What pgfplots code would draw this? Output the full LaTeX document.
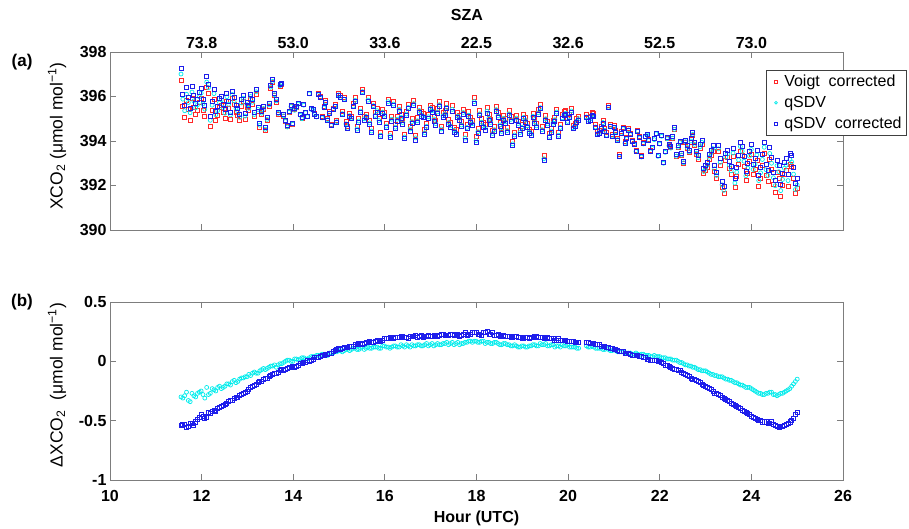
\documentclass[border=0pt]{standalone}
\usepackage{fontspec}
\setmainfont{Liberation Sans}
\usepackage{pgfplots}
\usepackage{pgfplotstable}
\pgfplotsset{compat=1.18}
\definecolor{cR}{RGB}{255,40,40}
\definecolor{cC}{RGB}{0,235,235}
\definecolor{cB}{RGB}{30,30,235}
\definecolor{axgray}{RGB}{125,125,125}

% t = hour (UTC), v = Voigt corrected, c = qSDV, b = qSDV corrected,
% dc = Voigt - qSDV, db = Voigt - qSDV corrected
\pgfplotstableread{
t v c b dc db
11.55 396.71 397.01 397.25 -0.30 -0.54
11.63 395.07 395.36 395.60 -0.29 -0.53
11.71 395.40 395.73 395.95 -0.33 -0.55
11.79 395.93 396.20 396.45 -0.27 -0.52
11.87 395.19 395.49 395.70 -0.30 -0.51
11.95 395.73 395.99 396.20 -0.26 -0.47
12.03 395.39 395.67 395.85 -0.28 -0.46
12.11 396.43 396.65 396.90 -0.22 -0.47
12.19 394.66 394.93 395.10 -0.27 -0.44
12.27 395.89 396.13 396.30 -0.24 -0.41
12.35 395.15 395.37 395.55 -0.22 -0.40
12.43 395.62 395.85 396.00 -0.23 -0.38
12.51 395.04 395.25 395.40 -0.21 -0.36
12.59 395.46 395.65 395.80 -0.19 -0.34
12.67 395.92 396.09 396.25 -0.17 -0.33
12.75 395.30 395.48 395.60 -0.18 -0.30
12.83 394.91 395.06 395.20 -0.15 -0.29
12.91 395.78 395.92 396.05 -0.14 -0.27
12.99 395.50 395.63 395.75 -0.13 -0.25
13.07 395.88 396.00 396.10 -0.12 -0.22
13.15 395.10 395.19 395.30 -0.09 -0.20
13.23 395.32 395.42 395.50 -0.10 -0.18
13.31 395.18 395.25 395.35 -0.07 -0.17
13.39 394.46 394.53 394.60 -0.07 -0.14
13.47 395.57 395.62 395.70 -0.05 -0.13
13.55 396.64 396.68 396.75 -0.04 -0.11
13.63 395.75 395.80 395.85 -0.05 -0.10
13.71 396.47 396.49 396.55 -0.02 -0.08
13.79 395.12 395.13 395.20 -0.01 -0.08
13.87 394.64 394.63 394.70 0.01 -0.06
13.95 395.55 395.55 395.60 0.00 -0.05
14.03 395.40 395.38 395.45 0.02 -0.05
14.11 395.67 395.66 395.70 0.01 -0.03
14.19 395.03 395.00 395.05 0.03 -0.02
14.27 395.29 395.27 395.30 0.02 -0.01
14.35 396.15 396.12 396.15 0.03 0.00
14.43 395.42 395.38 395.40 0.04 0.02
14.51 395.13 395.08 395.10 0.05 0.03
14.59 395.99 395.94 395.95 0.05 0.04
14.67 395.55 395.49 395.50 0.06 0.05
14.75 395.01 394.96 394.95 0.05 0.06
14.83 394.77 394.70 394.70 0.07 0.07
14.91 395.64 395.56 395.55 0.08 0.09
14.99 396.16 396.07 396.05 0.09 0.11
15.07 395.31 395.23 395.20 0.08 0.11
15.15 394.87 394.77 394.75 0.10 0.12
15.23 395.23 395.14 395.10 0.09 0.13
15.31 395.68 395.57 395.55 0.11 0.13
15.39 394.64 394.54 394.50 0.10 0.14
15.47 395.45 395.34 395.30 0.11 0.15
15.55 395.10 395.00 394.95 0.10 0.15
15.63 395.96 395.84 395.80 0.12 0.16
15.71 394.56 394.45 394.40 0.11 0.16
15.79 395.27 395.15 395.10 0.12 0.17
15.87 395.03 394.92 394.85 0.11 0.18
15.95 395.43 395.30 395.25 0.13 0.18
16.03 394.79 394.67 394.60 0.12 0.19
16.11 394.35 394.24 394.15 0.11 0.20
16.19 395.79 395.66 395.60 0.13 0.19
16.27 395.10 394.98 394.90 0.12 0.20
16.35 395.21 395.07 395.00 0.14 0.21
16.43 394.30 394.18 394.10 0.12 0.20
16.51 395.64 395.51 395.45 0.13 0.19
16.59 395.01 394.87 394.80 0.14 0.21
16.67 394.27 394.14 394.05 0.13 0.22
16.75 395.51 395.37 395.30 0.14 0.21
16.83 395.25 395.12 395.05 0.13 0.20
16.91 394.81 394.66 394.60 0.15 0.21
16.99 395.61 395.47 395.40 0.14 0.21
17.07 395.12 394.99 394.90 0.13 0.22
17.15 395.46 395.31 395.25 0.15 0.21
17.23 394.68 394.54 394.45 0.14 0.23
17.31 395.37 395.22 395.15 0.15 0.22
17.39 394.97 394.83 394.75 0.14 0.22
17.47 395.58 395.42 395.35 0.16 0.23
17.55 394.52 394.37 394.30 0.15 0.22
17.63 395.16 395.02 394.95 0.14 0.21
17.71 395.43 395.28 395.20 0.15 0.23
17.79 394.77 394.61 394.55 0.16 0.22
17.87 395.08 394.91 394.85 0.17 0.23
17.95 395.94 395.77 395.70 0.17 0.24
18.03 394.58 394.42 394.35 0.16 0.23
18.11 395.02 394.85 394.80 0.17 0.22
18.19 394.74 394.59 394.50 0.15 0.24
18.27 395.18 395.02 394.95 0.16 0.23
18.35 394.49 394.34 394.25 0.15 0.24
18.43 395.57 395.41 395.35 0.16 0.22
18.51 394.86 394.72 394.65 0.14 0.21
18.59 395.17 395.02 394.95 0.15 0.22
18.67 394.61 394.47 394.40 0.14 0.21
18.75 395.10 394.97 394.90 0.13 0.20
18.83 394.41 394.27 394.20 0.14 0.21
18.91 394.90 394.78 394.70 0.12 0.20
18.99 394.74 394.61 394.55 0.13 0.19
19.07 395.05 394.93 394.85 0.12 0.20
19.15 394.54 394.41 394.35 0.13 0.19
19.23 395.25 395.11 395.05 0.14 0.20
19.31 394.81 394.68 394.60 0.13 0.21
19.39 395.65 395.50 395.45 0.15 0.20
19.47 393.34 393.20 393.15 0.14 0.19
19.55 394.90 394.77 394.70 0.13 0.20
19.63 394.59 394.45 394.40 0.14 0.19
19.71 395.08 394.96 394.90 0.12 0.18
19.79 394.39 394.26 394.20 0.13 0.19
19.87 395.18 395.04 395.00 0.14 0.18
19.95 395.38 395.25 395.20 0.13 0.18
20.03 395.22 395.10 395.05 0.12 0.17
20.11 394.72 394.60 394.55 0.12 0.17
20.19 395.01 394.90 394.85 0.11 0.16
20.40 395.21 395.08 395.05 0.13 0.16
20.48 395.10 394.98 394.95 0.12 0.15
20.56 395.25 395.13 395.10 0.12 0.15
20.64 394.44 394.33 394.30 0.11 0.14
20.72 394.68 394.57 394.55 0.11 0.13
20.80 394.58 394.48 394.45 0.10 0.13
20.88 395.62 395.52 395.50 0.10 0.12
20.96 394.31 394.22 394.20 0.09 0.11
21.04 394.50 394.41 394.40 0.09 0.10
21.12 393.38 393.30 393.30 0.08 0.08
21.20 394.63 394.55 394.55 0.08 0.08
21.28 394.17 394.10 394.10 0.07 0.07
21.36 394.36 394.29 394.30 0.07 0.06
21.44 393.90 393.84 393.85 0.06 0.05
21.52 394.50 394.44 394.45 0.06 0.05
21.60 393.34 393.28 393.30 0.06 0.04
21.68 394.23 394.18 394.20 0.05 0.03
21.76 394.07 394.02 394.05 0.05 0.02
21.84 393.71 393.67 393.70 0.04 0.01
21.92 394.36 394.32 394.35 0.04 0.01
22.00 393.90 393.86 393.90 0.04 0.00
22.08 393.03 393.00 393.05 0.03 -0.02
22.16 394.12 394.10 394.15 0.02 -0.03
22.24 393.70 393.68 393.75 0.02 -0.05
22.32 394.53 394.52 394.60 0.01 -0.07
22.40 393.72 393.72 393.80 0.00 -0.08
22.48 393.36 393.37 393.45 -0.01 -0.09
22.56 393.94 393.97 394.05 -0.03 -0.11
22.64 393.47 393.51 393.60 -0.04 -0.13
22.72 394.25 394.30 394.40 -0.05 -0.15
22.80 393.39 393.45 393.55 -0.06 -0.16
22.88 393.67 393.74 393.85 -0.07 -0.18
22.96 392.55 392.63 392.75 -0.08 -0.20
23.04 392.83 392.92 393.05 -0.09 -0.22
23.12 393.36 393.47 393.60 -0.11 -0.24
23.20 392.63 392.75 392.90 -0.12 -0.27
23.28 393.52 393.65 393.80 -0.13 -0.28
23.36 391.90 392.03 392.20 -0.13 -0.30
23.44 393.13 393.28 393.45 -0.15 -0.32
23.52 392.76 392.92 393.10 -0.16 -0.34
23.60 393.29 393.46 393.65 -0.17 -0.36
23.68 392.42 392.60 392.80 -0.18 -0.38
23.76 393.55 393.75 393.95 -0.20 -0.40
23.84 392.88 393.09 393.30 -0.21 -0.42
23.92 392.56 392.78 393.00 -0.22 -0.44
24.00 393.39 393.62 393.85 -0.23 -0.46
24.08 392.72 392.97 393.20 -0.25 -0.48
24.16 391.95 392.22 392.45 -0.27 -0.50
24.24 392.89 393.17 393.40 -0.28 -0.51
24.32 392.44 392.71 392.95 -0.27 -0.51
24.40 393.18 393.44 393.70 -0.26 -0.52
24.48 392.07 392.35 392.60 -0.28 -0.53
24.56 392.60 392.89 393.15 -0.29 -0.55
24.64 391.50 391.77 392.05 -0.27 -0.55
24.72 392.51 392.77 393.05 -0.26 -0.54
24.80 391.98 392.22 392.50 -0.24 -0.52
24.88 392.85 393.06 393.35 -0.21 -0.50
24.96 391.65 391.82 392.10 -0.17 -0.45
11.59 395.57 395.88 396.10 -0.31 -0.53
11.67 395.84 396.10 396.40 -0.26 -0.56
11.75 394.93 395.27 395.45 -0.34 -0.52
11.83 395.51 395.80 396.05 -0.29 -0.54
11.91 395.36 395.63 395.85 -0.27 -0.49
11.99 395.90 396.15 396.35 -0.25 -0.45
12.07 395.12 395.43 395.60 -0.31 -0.48
12.15 396.12 396.40 396.55 -0.28 -0.43
12.23 395.38 395.61 395.80 -0.23 -0.42
12.31 394.93 395.18 395.35 -0.25 -0.42
12.39 395.51 395.72 395.90 -0.21 -0.39
12.47 395.28 395.50 395.65 -0.22 -0.37
12.55 395.80 395.99 396.15 -0.19 -0.35
12.63 394.97 395.17 395.30 -0.20 -0.33
12.71 395.64 395.80 395.95 -0.16 -0.31
12.79 395.15 395.32 395.45 -0.17 -0.30
12.87 395.57 395.71 395.85 -0.14 -0.28
12.95 394.99 395.12 395.25 -0.13 -0.26
13.03 395.36 395.47 395.60 -0.11 -0.24
13.11 395.64 395.74 395.85 -0.10 -0.21
13.19 396.11 396.21 396.30 -0.10 -0.19
13.27 394.63 394.71 394.80 -0.08 -0.17
13.35 395.40 395.46 395.55 -0.06 -0.15
13.43 394.91 394.97 395.05 -0.06 -0.14
13.51 396.38 396.42 396.50 -0.04 -0.12
13.59 396.05 396.08 396.15 -0.03 -0.10
13.67 395.21 395.24 395.30 -0.03 -0.09
13.75 396.53 396.55 396.60 -0.02 -0.07
13.83 394.88 394.88 394.95 0.00 -0.07
13.91 395.30 395.29 395.35 0.01 -0.05
13.99 394.76 394.76 394.80 0.00 -0.04
14.07 395.51 395.49 395.55 0.02 -0.04
14.15 395.18 395.16 395.20 0.02 -0.02
14.23 395.64 395.61 395.65 0.03 -0.01
14.31 395.11 395.09 395.10 0.02 0.01
14.39 395.46 395.42 395.45 0.04 0.01
14.47 395.23 395.19 395.20 0.04 0.03
14.55 396.13 396.08 396.10 0.05 0.03
14.63 395.10 395.04 395.05 0.06 0.05
14.71 395.81 395.75 395.75 0.06 0.06
14.79 395.32 395.25 395.25 0.07 0.07
14.87 395.48 395.41 395.40 0.07 0.08
14.95 394.95 394.87 394.85 0.08 0.10
15.03 396.05 395.96 395.95 0.09 0.10
15.11 395.97 395.88 395.85 0.09 0.12
15.19 394.67 394.57 394.55 0.10 0.12
15.27 395.13 395.03 395.00 0.10 0.13
15.35 395.94 395.83 395.80 0.11 0.14
15.43 395.00 394.90 394.85 0.10 0.15
15.51 396.34 396.22 396.20 0.12 0.14
15.59 395.21 395.10 395.05 0.11 0.16
15.67 394.92 394.81 394.75 0.11 0.17
15.75 395.71 395.59 395.55 0.12 0.16
15.83 395.48 395.36 395.30 0.12 0.18
15.91 394.37 394.26 394.20 0.11 0.17
15.99 395.29 395.16 395.10 0.13 0.19
16.07 395.89 395.77 395.70 0.12 0.19
16.15 395.10 394.98 394.90 0.12 0.20
16.23 394.75 394.62 394.55 0.13 0.20
16.31 395.55 395.43 395.35 0.12 0.20
16.39 394.96 394.83 394.75 0.13 0.21
16.47 395.35 395.21 395.15 0.14 0.20
16.55 394.66 394.54 394.45 0.12 0.21
16.63 395.81 395.68 395.60 0.13 0.21
16.71 395.05 394.91 394.85 0.14 0.20
16.79 395.32 395.19 395.10 0.13 0.22
16.87 394.51 394.37 394.30 0.14 0.21
16.95 395.22 395.09 395.00 0.13 0.22
17.03 395.51 395.36 395.30 0.15 0.21
17.11 394.92 394.78 394.70 0.14 0.22
17.19 395.77 395.63 395.55 0.14 0.22
17.27 395.28 395.13 395.05 0.15 0.23
17.35 395.67 395.51 395.45 0.16 0.22
17.43 394.83 394.68 394.60 0.15 0.23
17.51 394.62 394.48 394.40 0.14 0.22
17.59 395.28 395.12 395.05 0.16 0.23
17.67 394.87 394.72 394.65 0.15 0.22
17.75 394.29 394.13 394.05 0.16 0.24
17.83 395.33 395.16 395.10 0.17 0.23
17.91 394.94 394.78 394.70 0.16 0.24
17.99 394.19 394.02 393.95 0.17 0.24
18.07 395.38 395.22 395.15 0.16 0.23
18.15 394.84 394.67 394.60 0.17 0.24
18.23 395.50 395.34 395.25 0.16 0.25
18.31 394.98 394.83 394.75 0.15 0.23
18.39 394.67 394.51 394.45 0.16 0.22
18.47 395.28 395.13 395.05 0.15 0.23
18.55 394.57 394.43 394.35 0.14 0.22
18.63 395.01 394.86 394.80 0.15 0.21
18.71 395.36 395.22 395.15 0.14 0.21
18.79 394.00 393.87 393.80 0.13 0.20
18.87 395.16 395.03 394.95 0.13 0.21
18.95 394.50 394.38 394.30 0.12 0.20
19.03 395.19 395.06 395.00 0.13 0.19
19.11 394.80 394.68 394.60 0.12 0.20
19.19 394.45 394.32 394.25 0.13 0.20
19.27 395.01 394.87 394.80 0.14 0.21
19.35 395.40 395.27 395.20 0.13 0.20
19.43 394.65 394.51 394.45 0.14 0.20
19.51 395.15 395.00 394.95 0.15 0.20
19.59 394.34 394.21 394.15 0.13 0.19
19.67 394.94 394.80 394.75 0.14 0.19
19.75 395.43 395.30 395.25 0.13 0.18
19.83 394.73 394.61 394.55 0.12 0.18
19.91 395.33 395.20 395.15 0.13 0.18
19.99 395.02 394.88 394.85 0.14 0.17
20.07 395.47 395.35 395.30 0.12 0.17
20.15 394.81 394.69 394.65 0.12 0.16
20.23 395.11 395.00 394.95 0.11 0.16
20.44 395.06 394.94 394.90 0.12 0.16
20.52 395.30 395.17 395.15 0.13 0.15
20.60 394.74 394.63 394.60 0.11 0.14
20.68 394.49 394.38 394.35 0.11 0.14
20.76 394.93 394.83 394.80 0.10 0.13
20.84 394.37 394.26 394.25 0.11 0.12
20.92 394.76 394.67 394.65 0.09 0.11
21.00 394.70 394.60 394.60 0.10 0.10
21.08 394.14 394.06 394.05 0.08 0.09
21.16 394.43 394.35 394.35 0.08 0.08
21.24 393.97 393.90 393.90 0.07 0.07
21.32 394.57 394.50 394.50 0.07 0.07
21.40 394.05 393.99 394.00 0.06 0.05
21.48 393.60 393.53 393.55 0.07 0.05
21.56 394.19 394.14 394.15 0.05 0.04
21.64 393.93 393.87 393.90 0.06 0.03
21.72 394.32 394.27 394.30 0.05 0.02
21.80 393.56 393.52 393.55 0.04 0.01
21.88 394.11 394.06 394.10 0.05 0.01
21.96 393.35 393.31 393.35 0.04 0.00
22.04 394.24 394.21 394.25 0.03 -0.01
22.12 393.52 393.49 393.55 0.03 -0.03
22.20 393.81 393.79 393.85 0.02 -0.04
22.28 394.14 394.13 394.20 0.01 -0.06
22.36 393.33 393.32 393.40 0.01 -0.07
22.44 393.92 393.93 394.00 -0.01 -0.08
22.52 393.00 393.02 393.10 -0.02 -0.10
22.60 393.68 393.71 393.80 -0.03 -0.12
22.68 393.96 394.00 394.10 -0.04 -0.14
22.76 393.80 393.85 393.95 -0.05 -0.15
22.84 393.18 393.25 393.35 -0.07 -0.17
22.92 393.86 393.94 394.05 -0.08 -0.19
23.00 392.69 392.77 392.90 -0.08 -0.21
23.08 393.17 393.27 393.40 -0.10 -0.23
23.16 393.55 393.66 393.80 -0.11 -0.25
23.24 392.33 392.45 392.60 -0.12 -0.27
23.32 392.91 393.04 393.20 -0.13 -0.29
23.40 391.64 391.78 391.95 -0.14 -0.31
23.48 393.27 393.42 393.60 -0.15 -0.33
23.56 392.50 392.66 392.85 -0.16 -0.35
23.64 391.93 392.11 392.30 -0.18 -0.37
23.72 392.96 393.15 393.35 -0.19 -0.39
23.80 393.34 393.54 393.75 -0.20 -0.41
23.88 392.22 392.44 392.65 -0.22 -0.43
23.96 393.10 393.32 393.55 -0.22 -0.45
24.04 392.48 392.72 392.95 -0.24 -0.47
24.12 393.11 393.37 393.60 -0.26 -0.49
24.20 392.30 392.57 392.80 -0.27 -0.50
24.28 393.44 393.72 393.95 -0.28 -0.51
24.36 392.18 392.45 392.70 -0.27 -0.52
24.44 392.74 393.00 393.25 -0.26 -0.51
24.52 391.71 391.99 392.25 -0.28 -0.54
24.60 392.34 392.62 392.90 -0.28 -0.56
24.68 392.00 392.27 392.55 -0.27 -0.55
24.76 392.67 392.92 393.20 -0.25 -0.53
24.84 392.94 393.17 393.45 -0.23 -0.51
24.92 392.32 392.51 392.80 -0.19 -0.48
25.00 391.87 392.02 392.30 -0.15 -0.43
}\data

\pgfplotsset{
  myax/.style={
    scale only axis, width=733pt, height=178pt,
    xmin=10, xmax=26, clip=false,
    axis line style={axgray, line width=0.9pt},
    every tick/.style={axgray, line width=0.9pt},
    major tick length=6pt, tick align=inside,
    tick label style={font=\bfseries\fontsize{16}{16}\selectfont, black},
  },
  pR/.style={only marks, mark=square, mark size=2pt, cR, mark options={line width=0.7pt}},
  pC/.style={only marks, mark=o, mark size=2pt, cC, mark options={line width=0.7pt}},
  pB/.style={only marks, mark=square, mark size=2pt, cB, mark options={line width=0.7pt}},
}

\begin{document}
\begin{tikzpicture}
\useasboundingbox (0,0) rectangle (909pt,529pt);
% ---------- panel (a) ----------
\begin{axis}[myax, at={(110pt,299pt)}, anchor=south west,
  ymin=390, ymax=398, ytick={390,392,394,396,398},
  yticklabels={390,392,394,396,398},
  xtick={12,14,16,18,20,22,24},
  xticklabels={73.8,53.0,33.6,22.5,32.6,52.5,73.0},
  xticklabel pos=upper,
  ylabel={XCO\textsubscript{2} (μmol mol\textsuperscript{−1})},
  ylabel style={at={(axis description cs:-0.0723,0.528)}, anchor=center, font=\fontsize{17.5}{19}\selectfont},
  legend style={at={(axis description cs:1.0873,0.899)}, anchor=north east,
    draw=black!75, line width=0.7pt, font=\fontsize{16}{18}\selectfont,
    inner sep=3pt, row sep=4pt, cells={anchor=west}},
  legend image code/.code={%
    \path (0pt,0pt) (12pt,0pt);
    \draw[mark repeat=2,mark phase=2,#1,mark size=1.4pt] plot coordinates {(2pt,0pt) (6pt,0pt) (10pt,0pt)};},
]
\addplot[pR] table[x=t,y=v] {\data};
\addlegendentry{Voigt\ \ corrected}
\addplot[pC] table[x=t,y=c] {\data};
\addlegendentry{qSDV}
\addplot[pB] table[x=t,y=b] {\data};
\addlegendentry{qSDV\ \ corrected}
\node[font=\bfseries\fontsize{16}{18}\selectfont] at (axis description cs:0.487,1.208) {SZA};
\node[font=\bfseries\fontsize{17}{19}\selectfont] at (axis description cs:-0.12,0.944) {(a)};
\end{axis}
% ---------- panel (b) ----------
\begin{axis}[myax, at={(110pt,49pt)}, anchor=south west,
  ymin=-1, ymax=0.5, ytick={-1,-0.5,0,0.5},
  yticklabels={-1,-0.5,0,0.5},
  xtick={10,12,14,16,18,20,22,24,26},
  xticklabels={10,12,14,16,18,20,22,24,26},
  xticklabel style={yshift=-7pt},
  xlabel={Hour (UTC)},
  xlabel style={at={(axis description cs:0.5,-0.213)}, anchor=center, font=\bfseries\fontsize{16}{18}\selectfont},
  ylabel={ΔXCO\textsubscript{2}\ \ (μmol mol\textsuperscript{−1})},
  ylabel style={at={(axis description cs:-0.0723,0.534)}, anchor=center, font=\fontsize{17.5}{19}\selectfont},
]
\addplot[pC] table[x=t,y=dc] {\data};
\addplot[pB] table[x=t,y=db] {\data};
\node[font=\bfseries\fontsize{17}{19}\selectfont] at (axis description cs:-0.12,1.0) {(b)};
\end{axis}
\end{tikzpicture}
\end{document}
